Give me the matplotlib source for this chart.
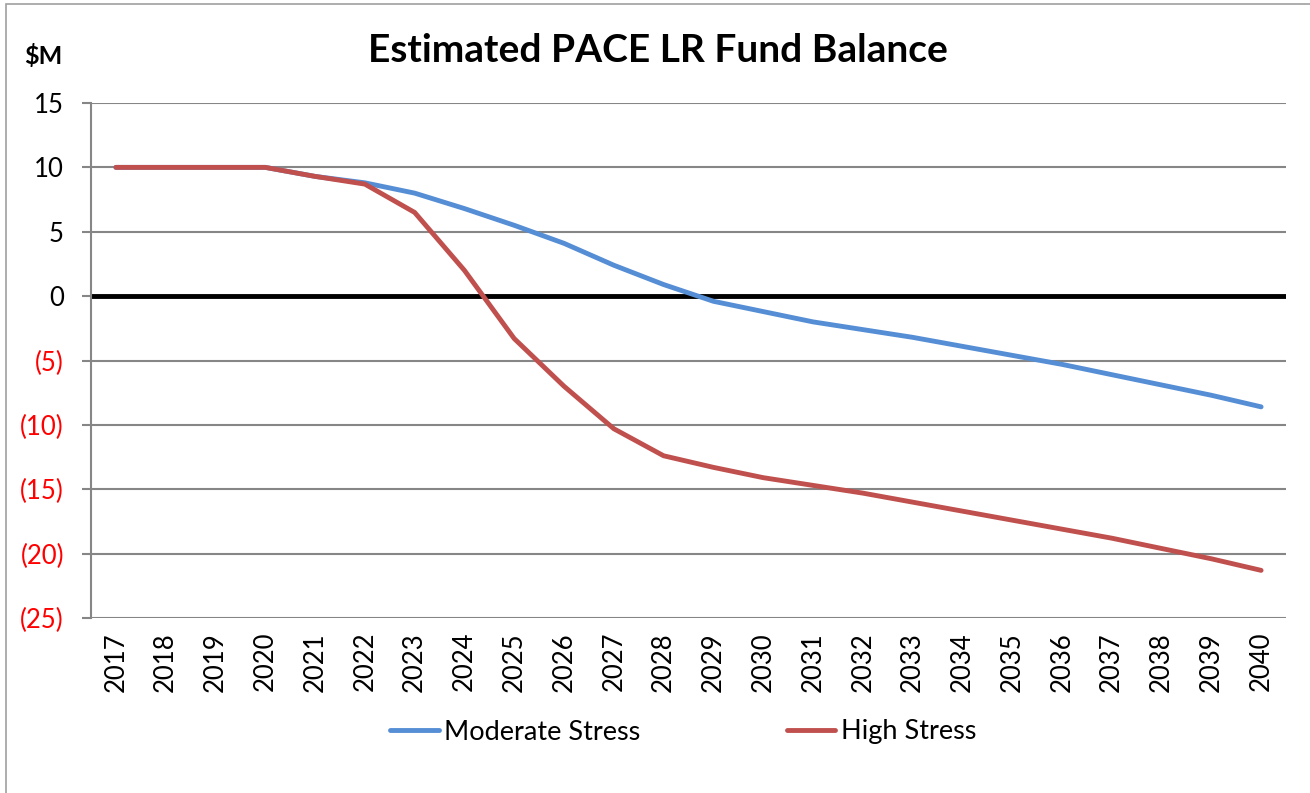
import matplotlib.pyplot as plt
import matplotlib.patches as patches
import numpy as np

# =============================================================================
# Data
# =============================================================================

YEARS = [str(y) for y in range(2017, 2041)]

MODERATE_STRESS = [
    10.0, 10.0, 10.0, 10.0, 9.3, 8.8, 8.0, 6.8, 5.5, 4.1, 2.4, 0.9,
    -0.4, -1.2, -2.0, -2.6, -3.2, -3.9, -4.6, -5.3, -6.1, -6.9, -7.7, -8.6,
]

HIGH_STRESS = [
    10.0, 10.0, 10.0, 10.0, 9.3, 8.7, 6.5, 2.0, -3.3, -7.0, -10.3, -12.4,
    -13.3, -14.1, -14.7, -15.3, -16.0, -16.7, -17.4, -18.1, -18.8, -19.6, -20.4, -21.3,
]

Y_TICKS = [15, 10, 5, 0, -5, -10, -15, -20, -25]

BLUE = "#558ED5"
RED = "#C0504D"
GRID = "#868686"

FONT = ["Lato", "DejaVu Sans"]


def tick_label(v):
    return f"({abs(v)})" if v < 0 else str(v)


def main():
    plt.rcParams["font.family"] = FONT

    fig = plt.figure(figsize=(13.1, 7.93), dpi=100)
    ax = fig.add_axes([91 / 1310, 1 - 618 / 793, (1286 - 91) / 1310, (618 - 103) / 793])

    x = np.arange(len(YEARS))
    ax.plot(x, MODERATE_STRESS, color=BLUE, linewidth=3.5, solid_capstyle="round",
            label="Moderate Stress", zorder=3)
    ax.plot(x, HIGH_STRESS, color=RED, linewidth=3.5, solid_capstyle="round",
            label="High Stress", zorder=4)

    ax.set_xlim(-0.5, len(YEARS) - 0.5)
    ax.set_ylim(-25, 15)

    ax.set_yticks(Y_TICKS)
    ax.set_yticklabels([tick_label(v) for v in Y_TICKS])
    for lbl, v in zip(ax.get_yticklabels(), Y_TICKS):
        lbl.set_color("#FF0000" if v < 0 else "black")
    ax.tick_params(axis="y", length=6.5, width=1.5, color=GRID, labelsize=18.5, pad=13)

    ax.set_xticks(x)
    ax.set_xticklabels(YEARS, rotation=90)
    ax.tick_params(axis="x", length=0, labelsize=18.5, pad=10)

    ax.yaxis.grid(True, color=GRID, linewidth=1.5)
    ax.set_axisbelow(True)
    ax.axhline(0, color="black", linewidth=3.5, zorder=2)

    for side in ["top", "right", "bottom"]:
        ax.spines[side].set_visible(False)
    ax.spines["left"].set_color(GRID)
    ax.spines["left"].set_linewidth(1.5)

    fig.text(658 / 1310, 1 - 50 / 793, "Estimated PACE LR Fund Balance",
             ha="center", va="center", fontsize=28, fontweight="bold")
    fig.text(24 / 1310, 1 - 56 / 793, "$M", ha="left", va="center",
             fontsize=18, fontweight="bold")

    fig.legend(loc="center", bbox_to_anchor=(683 / 1310, 1 - 732 / 793), ncol=2,
               frameon=False, fontsize=19.5, handlelength=1.8, handletextpad=0.2,
               columnspacing=5.4)

    # outer chart border
    fig.patches.append(patches.Rectangle((6 / 1310, -0.05), 1.2, 1 - 4 / 793 + 0.05,
                                         transform=fig.transFigure, fill=False,
                                         edgecolor="#A0A0A0", linewidth=1.2))

    fig.savefig("out.png", dpi=100)
    plt.close(fig)


if __name__ == "__main__":
    main()
